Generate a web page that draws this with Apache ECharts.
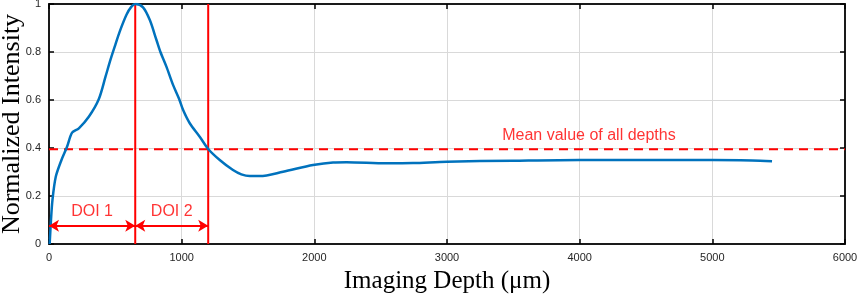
<!DOCTYPE html>
<html>
<head>
<meta charset="utf-8">
<script src="https://cdn.jsdelivr.net/npm/echarts@6/dist/echarts.min.js"></script>
<style>
html, body { margin: 0; padding: 0; background: #fff; }
#chart { width: 858px; height: 297px; }
</style>
</head>
<body>
<div id="chart"></div>
<script>
// intensity profile
const depth = [5, 15, 26, 51, 94, 136, 174, 225, 300, 375, 426, 463, 500, 533, 584, 620, 652, 709, 760, 810, 840, 885, 935, 981, 1011, 1061, 1136, 1200, 1287, 1387, 1450, 1513, 1589, 1764, 1990, 2141, 2242, 2543, 2744, 3000, 3497, 4000, 4500, 5000, 5300, 5450];
const intensity = [0, 0.1, 0.183, 0.28, 0.35, 0.405, 0.464, 0.482, 0.53, 0.603, 0.697, 0.767, 0.83, 0.885, 0.955, 0.988, 1.0, 0.986, 0.933, 0.85, 0.80, 0.739, 0.663, 0.604, 0.558, 0.503, 0.447, 0.396, 0.35, 0.308, 0.29, 0.283, 0.283, 0.301, 0.329, 0.34, 0.341, 0.336, 0.337, 0.343, 0.347, 0.35, 0.35, 0.35, 0.348, 0.345];

const meanValue = 0.395;
const doiEdges = [0, 650, 1200];
const doiLabels = ['DOI 1', 'DOI 2'];
const xTicks = [0, 1000, 2000, 3000, 4000, 5000, 6000];
const yTicks = [0, 0.2, 0.4, 0.6, 0.8, 1];

const chart = echarts.init(document.getElementById('chart'));

const red = '#ff0000';
const tickFont = { color: '#262626', fontSize: 11, fontFamily: 'Liberation Sans, Arial, sans-serif' };
const titleFont = { fontFamily: 'Liberation Serif, Times New Roman, serif', fontSize: 25, color: '#000' };
const frame = { show: true, onZero: false, lineStyle: { color: '#1a1a1a', width: 2 } };
const inTick = { inside: true, length: 5, lineStyle: { color: '#000', width: 1.5 } };
const grid = { show: true, lineStyle: { color: '#d9d9d9', width: 1 } };

chart.setOption({
    animation: false,
    grid: {
        left: 49, right: 13, top: 4, bottom: 53,
        outerBoundsMode: 'none', containLabel: false
    },
    xAxis: [{
        type: 'value', min: xTicks[0], max: xTicks[xTicks.length - 1], interval: 1000,
        name: 'Imaging Depth (\u03bcm)', nameLocation: 'middle', nameGap: 25, nameMoveOverlap: false,
        nameTextStyle: titleFont,
        axisLine: frame, axisTick: inTick,
        axisLabel: Object.assign({ margin: 8, formatter: v => String(v) }, tickFont),
        splitLine: grid
    }, {
        type: 'value', min: 0, max: 6000, interval: 1000, position: 'top',
        axisLine: frame, axisTick: inTick,
        axisLabel: { show: false }, splitLine: { show: false }
    }],
    yAxis: [{
        type: 'value', min: yTicks[0], max: yTicks[yTicks.length - 1], interval: 0.2,
        name: 'Normalized Intensity', nameLocation: 'middle', nameGap: 24, nameMoveOverlap: false,
        nameTextStyle: Object.assign({}, titleFont, { fontSize: 26 }),
        axisLine: frame, axisTick: inTick,
        axisLabel: Object.assign({ margin: 8, formatter: v => String(+v.toFixed(1)) }, tickFont),
        splitLine: grid
    }, {
        type: 'value', min: 0, max: 1, interval: 0.2, position: 'right',
        axisLine: frame, axisTick: inTick,
        axisLabel: { show: false }, splitLine: { show: false }
    }],
    series: [{
        // mean line
        type: 'line', data: [[0, meanValue], [6000, meanValue]],
        symbol: 'none', z: 3,
        lineStyle: { color: red, width: 2, type: [9, 6] }
    }, {
        // DOI boundaries
        type: 'line', data: [[doiEdges[1], 0], [doiEdges[1], 1], null, [doiEdges[2], 0], [doiEdges[2], 1]],
        symbol: 'none', connectNulls: false, z: 3,
        lineStyle: { color: red, width: 2 }
    }, {
        type: 'line', data: depth.map((d, i) => [d, intensity[i]]),
        smooth: 0.3, symbol: 'none', z: 4,
        lineStyle: { color: '#0072bd', width: 2.5 },
        markLine: {
            silent: true, symbol: ['arrow', 'arrow'], symbolSize: [9, 10],
            label: { show: false },
            lineStyle: { color: red, width: 2, type: 'solid' },
            data: [
                [{ coord: [doiEdges[0], 0.076] }, { coord: [doiEdges[1], 0.076] }],
                [{ coord: [doiEdges[1], 0.076] }, { coord: [doiEdges[2], 0.076] }]
            ]
        }
    }, {
        type: 'scatter', symbolSize: 0, z: 5,
        data: [
            [(doiEdges[0] + doiEdges[1]) / 2, 0.133, doiLabels[0]],
            [(doiEdges[1] + doiEdges[2]) / 2, 0.133, doiLabels[1]],
            [4070, 0.45, 'Mean value of all depths']
        ],
        label: {
            show: true, position: 'inside', formatter: p => p.value[2],
            color: red, fontFamily: 'Liberation Sans, Arial, sans-serif',
            fontSize: 16
        }
    }]
});
</script>
</body>
</html>
